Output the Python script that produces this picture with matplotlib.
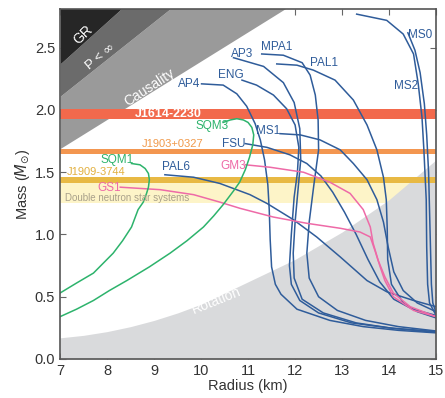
import numpy as np
import matplotlib as mpl
mpl.use("Agg")
from matplotlib import pyplot as plt

plt.rcParams['font.family'] = ['Liberation Sans Narrow', 'Liberation Sans', 'DejaVu Sans']

# shaded exclusion regions (boundary lines, radius km / mass Msun)
gr_r, gr_m = [7.0, 9.0], [2.37, 3.05]
pinf_r, pinf_m = [7.0, 10.0], [2.11, 3.01]
caus_r, caus_m = [7.0, 12.5], [1.69, 2.98]
rot_r = [7, 7.5, 8, 8.5, 9, 9.5, 10, 10.5, 11, 11.5, 12, 12.5, 13, 13.5, 14, 14.5, 15]
rot_m = [0.17, 0.19, 0.22, 0.26, 0.31, 0.37, 0.44, 0.53, 0.62, 0.71, 0.80, 0.91, 1.02, 1.15, 1.28, 1.44, 1.60]

# pulsar mass bands (low, high)
bands = {
    "J1614-2230": (1.93, 2.01),
    "J1903+0327": (1.65, 1.685),
    "J1909-3744": (1.416, 1.458),
    "DNS": (1.25, 1.416),
}

# mass-radius curves (R in km, M in Msun)
ap4_r = [10.01, 10.47, 10.76, 10.97, 11.15, 11.26, 11.35, 11.42, 11.45, 11.47, 11.50, 11.58, 11.70, 12.04, 12.74, 13.45, 14.2, 15.0]
ap4_m = [2.21, 2.20, 2.13, 2.03, 1.89, 1.76, 1.60, 1.40, 1.20, 0.96, 0.74, 0.60, 0.52, 0.40, 0.31, 0.26, 0.23, 0.21]
eng_r = [10.87, 11.18, 11.54, 11.82, 12.0, 12.08, 12.05, 11.98, 11.92, 11.88, 11.92, 12.10, 12.5, 13.2, 14.0, 15.0]
eng_m = [2.24, 2.20, 2.12, 2.01, 1.88, 1.70, 1.50, 1.30, 1.00, 0.75, 0.60, 0.47, 0.37, 0.29, 0.25, 0.22]
ap3_r = [10.69, 11.33, 11.75, 11.98, 12.10, 12.12, 12.06, 12.0, 11.96, 11.98, 12.15, 12.6, 13.3, 14.1, 15.0]
ap3_m = [2.42, 2.35, 2.22, 2.06, 1.85, 1.60, 1.35, 1.10, 0.85, 0.65, 0.48, 0.37, 0.29, 0.245, 0.215]
mpa1_r = [11.29, 11.75, 12.15, 12.32, 12.43, 12.49, 12.50, 12.40, 12.30, 12.25, 12.30, 12.50, 12.9, 13.5, 14.2, 15.0]
mpa1_m = [2.45, 2.44, 2.38, 2.28, 2.12, 1.92, 1.68, 1.40, 1.10, 0.85, 0.65, 0.50, 0.39, 0.31, 0.26, 0.225]
pal1_r = [11.61, 12.04, 12.39, 12.85, 13.24, 13.53, 13.74, 13.88, 13.94, 13.96, 13.97, 14.05, 14.3, 14.6, 15.0]
pal1_m = [2.37, 2.36, 2.32, 2.24, 2.08, 1.88, 1.68, 1.46, 1.28, 1.05, 0.80, 0.60, 0.45, 0.38, 0.33]
ms0_r = [13.31, 13.95, 14.30, 14.52, 14.62, 14.70, 14.74, 14.79, 14.80, 14.82, 14.86, 15.0]
ms0_m = [2.77, 2.72, 2.61, 2.45, 2.21, 1.94, 1.68, 1.28, 0.90, 0.60, 0.45, 0.35]
ms2_r = [14.40, 14.55, 14.66, 14.75, 14.80, 14.84, 14.86, 14.88, 14.90, 14.93, 15.0]
ms2_m = [2.62, 2.48, 2.30, 2.05, 1.80, 1.50, 1.20, 0.90, 0.60, 0.45, 0.37]
ms1_r = [11.68, 12.11, 12.53, 12.96, 13.24, 13.53, 13.74, 13.88, 13.98, 14.10, 14.30, 14.6, 15.0]
ms1_m = [1.81, 1.80, 1.76, 1.68, 1.57, 1.44, 1.28, 1.10, 0.90, 0.70, 0.55, 0.45, 0.38]
fsu_r = [10.94, 11.40, 11.89, 12.25, 12.55, 12.80, 13.05, 13.30, 13.55, 13.80, 14.10, 14.5, 15.0]
fsu_m = [1.73, 1.70, 1.64, 1.57, 1.47, 1.34, 1.18, 1.00, 0.80, 0.62, 0.48, 0.40, 0.35]
pal6_r = [9.23, 9.84, 10.40, 11.04, 11.40, 11.96, 12.46, 12.96, 13.53, 13.95, 14.52, 15.0]
pal6_m = [1.48, 1.46, 1.41, 1.32, 1.25, 1.12, 0.98, 0.82, 0.63, 0.54, 0.47, 0.42]
gm3_r = [10.94, 11.47, 12.18, 12.74, 13.17, 13.45, 13.60, 13.66, 13.77, 13.91, 14.09, 14.45, 15.0]
gm3_m = [1.56, 1.54, 1.50, 1.42, 1.33, 1.20, 1.06, 0.93, 0.79, 0.66, 0.53, 0.42, 0.34]
gs1_r = [8.28, 9.13, 9.84, 10.40, 10.83, 11.54, 12.25, 12.96, 13.38, 13.60, 13.70, 13.81, 13.91, 14.09, 14.52, 15.0]
gs1_m = [1.38, 1.36, 1.32, 1.26, 1.21, 1.14, 1.09, 1.05, 1.02, 0.98, 0.87, 0.74, 0.63, 0.50, 0.39, 0.34]
sqm1_r = [8.52, 8.70, 8.81, 8.88, 8.90, 8.88, 8.84, 8.77, 8.66, 8.52, 8.33, 8.13, 7.92, 7.71, 7.35, 7.0]
sqm1_m = [1.57, 1.56, 1.53, 1.49, 1.44, 1.38, 1.33, 1.26, 1.20, 1.06, 0.95, 0.85, 0.77, 0.69, 0.61, 0.53]
sqm3_r = [10.47, 10.62, 10.76, 10.90, 11.0, 11.08, 11.12, 11.10, 11.03, 10.94, 10.82, 10.69, 10.47, 10.27, 10.05, 9.70, 9.34, 8.90, 8.42, 8.05, 7.71, 7.35, 7.0]
sqm3_m = [1.90, 1.92, 1.93, 1.92, 1.90, 1.86, 1.80, 1.72, 1.62, 1.52, 1.42, 1.35, 1.24, 1.15, 1.06, 0.95, 0.85, 0.74, 0.63, 0.55, 0.47, 0.40, 0.34]

blue = "#2f5c9a"
green = "#2db36c"
pink = "#ee6aa7"

fig = plt.figure(figsize=(4.45, 3.98), dpi=100)
ax = fig.add_axes([0.135, 0.098, 0.845, 0.879])
ax.set_xlim(7, 15)
ax.set_ylim(0, 2.81)

# double neutron star band sits under the rotation region
ax.axhspan(*bands["DNS"], color="#fdf4c8", lw=0, zorder=1)
ax.fill_between(rot_r, 0, rot_m, color="#d9dadc", lw=0, zorder=2)

# GR / P<inf / causality wedges
rr = np.linspace(7, 15, 200)
top = 3.2
gr_line = np.interp(rr, gr_r, gr_m, right=np.nan)
pinf_line = np.interp(rr, pinf_r, pinf_m, right=np.nan)
caus_line = np.interp(rr, caus_r, caus_m, right=np.nan)
gr_fill = np.where(np.isnan(gr_line), top, gr_line)
pinf_fill = np.where(np.isnan(pinf_line), top, pinf_line)
caus_fill = np.where(np.isnan(caus_line), top, caus_line)
ax.fill_between(rr, caus_fill, pinf_fill, color="#9a9a9a", lw=0, zorder=3)
ax.fill_between(rr, pinf_fill, gr_fill, color="#6b6b6b", lw=0, zorder=3)
ax.fill_between(rr, gr_fill, top, color="#262626", lw=0, zorder=3)

# pulsar bands on top of the wedges
ax.axhspan(*bands["J1909-3744"], color="#e8b944", lw=0, zorder=4)
ax.axhspan(*bands["J1903+0327"], color="#f39650", lw=0, zorder=4)
ax.axhspan(*bands["J1614-2230"], color="#f2694c", lw=0, zorder=4)

ax.text(7.49, 2.60, "GR", color="white", fontsize=10, rotation=44, ha="center", va="center", zorder=6)
ax.text(7.85, 2.43, r"P < $\infty$", color="white", fontsize=9.5, rotation=40, ha="center", va="center", zorder=6)
ax.text(8.91, 2.18, "Causality", color="white", fontsize=10, rotation=33, ha="center", va="center", zorder=6)
ax.text(10.32, 0.47, "Rotation", color="white", fontsize=10, rotation=22, ha="center", va="center", zorder=6)

ax.text(9.3, 1.97, "J1614-2230", color="white", fontsize=9, fontweight="bold", ha="center", va="center", zorder=6)
ax.text(9.4, 1.73, "J1903+0327", color="#f0994a", fontsize=8, ha="center", va="center", zorder=6)
ax.text(7.14, 1.50, "J1909-3744", color="#e2b040", fontsize=8, ha="left", va="center", zorder=6)
ax.text(7.1, 1.29, "Double neutron star systems", color="#a8a08a", fontsize=7, ha="left", va="center", zorder=6)

curves = [
    (ap4_r, ap4_m, blue), (eng_r, eng_m, blue), (ap3_r, ap3_m, blue),
    (mpa1_r, mpa1_m, blue), (pal1_r, pal1_m, blue), (ms0_r, ms0_m, blue),
    (ms2_r, ms2_m, blue), (ms1_r, ms1_m, blue), (fsu_r, fsu_m, blue),
    (pal6_r, pal6_m, blue), (gm3_r, gm3_m, pink), (gs1_r, gs1_m, pink),
    (sqm1_r, sqm1_m, green), (sqm3_r, sqm3_m, green),
]
for r, m, c in curves:
    ax.plot(r, m, color=c, lw=1.1, zorder=5, solid_joinstyle="round")

labels = [
    ("AP4", 9.74, 2.21, blue), ("ENG", 10.64, 2.28, blue), ("AP3", 10.87, 2.45, blue),
    ("MPA1", 11.6, 2.51, blue), ("PAL1", 12.62, 2.38, blue), ("MS0", 14.66, 2.60, blue),
    ("MS2", 14.36, 2.19, blue), ("MS1", 11.43, 1.83, blue), ("FSU", 10.70, 1.73, blue),
    ("PAL6", 9.47, 1.54, blue), ("GM3", 10.68, 1.55, pink), ("GS1", 8.04, 1.375, pink),
    ("SQM1", 8.21, 1.60, green), ("SQM3", 10.23, 1.87, green),
]
for name, x, y, c in labels:
    ax.text(x, y, name, color=c, fontsize=8.5, ha="center", va="center", zorder=6)

ax.set_xticks(range(7, 16))
ax.set_yticks([0.0, 0.5, 1.0, 1.5, 2.0, 2.5])
ax.set_yticklabels(["0.0", "0.5", "1.0", "1.5", "2.0", "2.5"])
ax.tick_params(direction="in", top=True, right=True, length=4, color="#666666",
               labelcolor="#333333", labelsize=10.5)
for s in ax.spines.values():
    s.set_color("#555555")
    s.set_linewidth(1.2)
    s.set_zorder(7)
ax.set_xlabel("Radius (km)", fontsize=10.5, color="#333333", labelpad=1)
ax.set_ylabel(r"Mass ($M_{\odot}$)", fontsize=10.5, color="#333333", labelpad=2)

fig.savefig("out.png", dpi=100)
